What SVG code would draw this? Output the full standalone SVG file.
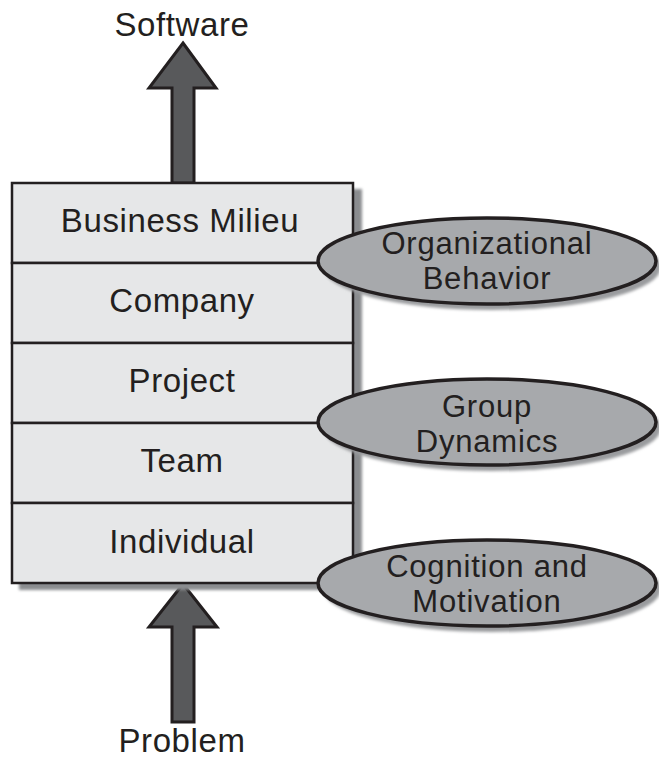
<svg xmlns="http://www.w3.org/2000/svg" width="659" height="759" viewBox="0 0 659 759">
<style>
.t{font-family:"Liberation Sans",Arial,sans-serif;font-size:33px;fill:#231f20;text-anchor:middle;letter-spacing:0.6px}
.e{font-size:31px;letter-spacing:0.8px}
.row{fill:#e6e7e8;stroke:#231f20;stroke-width:2.5}
.arrow{fill:#58595b;stroke:#231f20;stroke-width:3;stroke-linejoin:miter}
.ell{fill:#a7a9ac;stroke:#231f20;stroke-width:3.5}
.esh{fill:#9a9b9e}
.bsh{fill:#8a8c8f}
</style>
<defs>
<filter id="soft" x="-10%" y="-10%" width="120%" height="130%"><feGaussianBlur stdDeviation="1.5"/></filter>
</defs>
<g id="connectors">
<path class="arrow" d="M183,43 L216,88 L194,88 L194,183 L172,183 L172,88 L149,88 Z"/>
<path class="arrow" d="M183,584 L217,627 L194,627 L194,722 L172,722 L172,627 L149,627 Z"/>
</g>
<g id="stack">
<rect class="bsh" x="19" y="189" width="343" height="401" filter="url(#soft)"/>
<g id="business-milieu"><rect class="row" x="12" y="183" width="341" height="80"/><text class="t" x="180" y="232">Business Milieu</text></g>
<g id="company"><rect class="row" x="12" y="263" width="341" height="80"/><text class="t" x="182" y="312">Company</text></g>
<g id="project"><rect class="row" x="12" y="343" width="341" height="80"/><text class="t" x="182" y="392">Project</text></g>
<g id="team"><rect class="row" x="12" y="423" width="341" height="80"/><text class="t" x="182" y="472">Team</text></g>
<g id="individual"><rect class="row" x="12" y="503" width="341" height="80"/><text class="t" x="182" y="553">Individual</text></g>
</g>
<g id="organizational-behavior">
<ellipse class="esh" cx="492" cy="267" rx="169" ry="43" filter="url(#soft)"/>
<ellipse class="ell" cx="487" cy="261" rx="169" ry="43"/>
<text class="t e" x="487" y="254">Organizational</text>
<text class="t e" x="487" y="289">Behavior</text>
</g>
<g id="group-dynamics">
<ellipse class="esh" cx="492" cy="428" rx="169" ry="43" filter="url(#soft)"/>
<ellipse class="ell" cx="487" cy="422" rx="169" ry="43"/>
<text class="t e" x="487" y="417">Group</text>
<text class="t e" x="487" y="452">Dynamics</text>
</g>
<g id="cognition-motivation">
<ellipse class="esh" cx="492" cy="589" rx="169" ry="43" filter="url(#soft)"/>
<ellipse class="ell" cx="487" cy="583" rx="169" ry="43"/>
<text class="t e" x="487" y="577">Cognition and</text>
<text class="t e" x="487" y="612">Motivation</text>
</g>
<g id="software"><text class="t" x="182" y="36">Software</text></g>
<g id="problem"><text class="t" x="182" y="752">Problem</text></g>
</svg>
